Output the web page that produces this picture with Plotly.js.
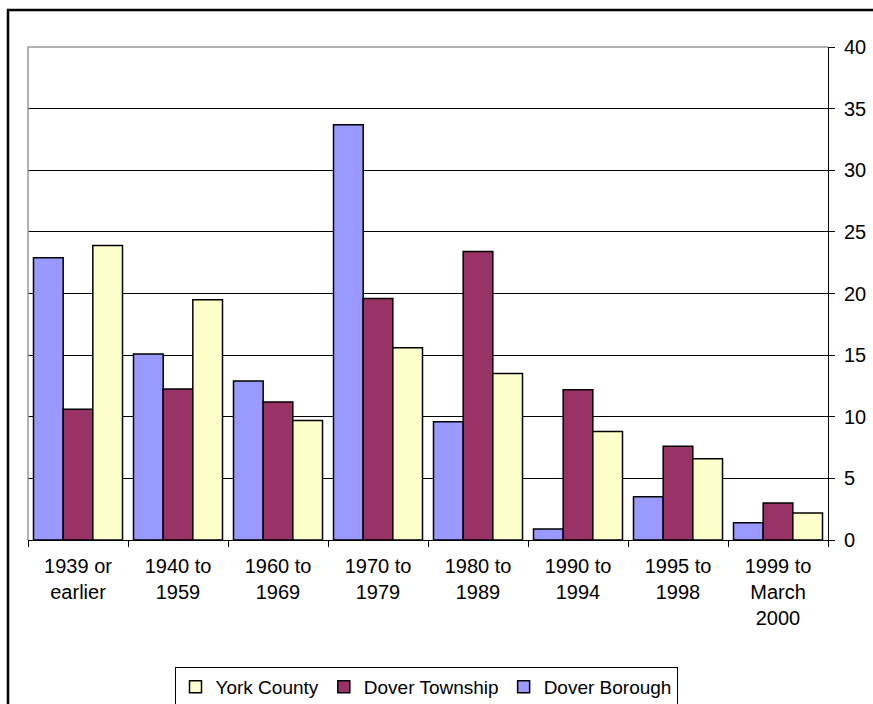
<!DOCTYPE html>
<html>
<head>
<meta charset="utf-8">
<script src="https://cdn.plot.ly/plotly-3.0.1.min.js"></script>
<style>html,body{margin:0;padding:0;background:#fff;}#chart{width:873px;height:704px;}</style>
</head>
<body>
<div id="chart"></div>
<script>
const categories = ["1939 or<br>earlier", "1940 to<br>1959", "1960 to<br>1969", "1970 to<br>1979", "1980 to<br>1989", "1990 to<br>1994", "1995 to<br>1998", "1999 to<br>March<br>2000"];
const doverBorough = [22.9, 15.1, 12.9, 33.7, 9.6, 0.9, 3.5, 1.4];
const doverTownship = [10.6, 12.25, 11.2, 19.6, 23.4, 12.2, 7.6, 3.0];
const yorkCounty = [23.9, 19.5, 9.7, 15.6, 13.5, 8.8, 6.6, 2.2];
const yTicks = [0, 5, 10, 15, 20, 25, 30, 35, 40];

const font = {family: "Liberation Sans, Arial, sans-serif", size: 20, color: "#000"};
const mk = (c) => ({color: c, line: {color: "#000", width: 1.5}});

const traces = [
  {type: "bar", name: "Dover Borough", x: categories, y: doverBorough, marker: mk("#9999FF")},
  {type: "bar", name: "Dover Township", x: categories, y: doverTownship, marker: mk("#993366")},
  {type: "bar", name: "York County", x: categories, y: yorkCounty, marker: mk("#FFFFCC")}
];

const layout = {
  width: 873, height: 704,
  margin: {l: 28, r: 45, t: 47, b: 164, autoexpand: false},
  paper_bgcolor: "#fff", plot_bgcolor: "#fff",
  font: font,
  barmode: "group", bargap: 0.11, bargroupgap: 0,
  showlegend: true,
  legend: {
    orientation: "h", traceorder: "reversed",
    x: 0.4975, xanchor: "center", y: -0.2576, yanchor: "top",
    bordercolor: "#000", borderwidth: 1, bgcolor: "#fff",
    font: {family: font.family, size: 19, color: "#000"},
    itemwidth: 30, tracegroupgap: 0
  },
  xaxis: {
    type: "category", tickson: "boundaries", ticks: "outside", ticklen: 6, tickcolor: "#000",
    showline: true, linecolor: "#000", linewidth: 1, showgrid: false, automargin: false,
    ticklabelstandoff: 8, tickfont: font, fixedrange: true
  },
  yaxis: {
    side: "right", range: [0, 40], tickvals: yTicks, ticktext: yTicks.map(String),
    ticks: "outside", ticklen: 6, tickcolor: "#000", automargin: false,
    showline: true, linecolor: "#000", linewidth: 1,
    showgrid: true, gridcolor: "#000", gridwidth: 1, zeroline: false,
    ticklabelstandoff: 5, tickfont: font, fixedrange: true
  },
  shapes: [
    {type: "path", xref: "paper", yref: "paper", path: "M0,0 L0,1 L1,1", line: {color: "#999", width: 1.5}, layer: "above"},
    {type: "path", xref: "paper", yref: "paper", path: "M-0.025,-0.4 L-0.025,1.0751 L1.1,1.0751", line: {color: "#000", width: 2.5}}
  ]
};

Plotly.newPlot("chart", traces, layout, {displayModeBar: false, staticPlot: true});
</script>
</body>
</html>
